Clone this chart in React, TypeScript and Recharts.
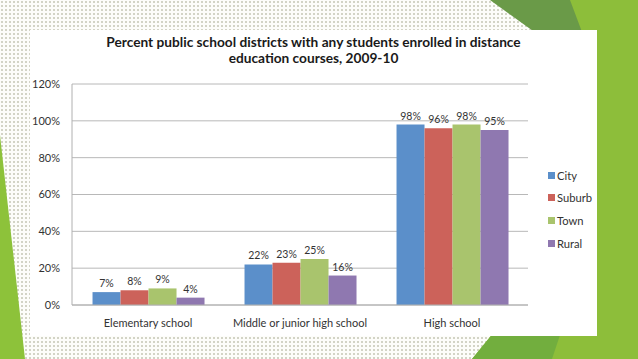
import { Bar, BarChart, CartesianGrid, LabelList, Legend, XAxis, YAxis } from 'recharts';
import { ReactElement } from 'react';

const categories = ['Elementary school', 'Middle or junior high school', 'High school'];
const cityValues = [7, 22, 98];
const suburbValues = [8, 23, 96];
const townValues = [9, 25, 98];
const ruralValues = [4, 16, 95];
const yTicks = [0, 20, 40, 60, 80, 100, 120];

const seriesNames = ['City', 'Suburb', 'Town', 'Rural'];
const seriesColors = ['#5B8FCA', '#CC625A', '#A9C46D', '#8F78B0'];

const chartData = categories.map((name, i) => ({
  name,
  City: cityValues[i],
  Suburb: suburbValues[i],
  Town: townValues[i],
  Rural: ruralValues[i],
}));

const FONT = 'Lato, "Open Sans", sans-serif';

// keep legend in series order (recharts sorts by name otherwise)
const renderLegend = (props: any) => {
  const items = [...props.payload].sort(
    (a: any, b: any) => seriesNames.indexOf(a.value) - seriesNames.indexOf(b.value),
  );
  return (
    <div style={{ fontFamily: FONT, fontSize: 11.2, color: '#333', whiteSpace: 'nowrap' }}>
      {items.map((entry: any) => (
        <div key={entry.value} style={{ height: 22.6, display: 'flex', alignItems: 'center' }}>
          <span style={{ width: 7, height: 7, background: entry.color, marginRight: 2, display: 'inline-block' }} />
          <span>{entry.value}</span>
        </div>
      ))}
    </div>
  );
};

export default function App(): ReactElement {
  return (
    <div style={{
      position: 'absolute', left: 0, top: 0, width: 638, height: 359, overflow: 'hidden',
      backgroundColor: '#fdfdfa',
      backgroundImage: 'radial-gradient(#d3d4c6 0.8px, transparent 1.1px)',
      backgroundSize: '4px 4px',
    }}>
      <svg width={638} height={359} style={{ position: 'absolute', left: 0, top: 0 }}>
        <polygon points="565,0 638,0 638,359 472,359 520,300 597,100" fill="#8DBE3A" />
        <polygon points="490,0 570,0 585,40 540,36" fill="#6A9A48" />
        <polygon points="472,359 552,359 565,320 500,325" fill="#72AE3E" />
        <polygon points="0,135 25,359 0,359" fill="#8DC23A" />
      </svg>
      <div style={{ position: 'absolute', left: 30, top: 30, width: 567, height: 306, background: '#fff' }}>
        <div style={{
          position: 'absolute', left: 0, top: 4, width: 567, textAlign: 'center',
          fontFamily: FONT, fontWeight: 'bold', fontSize: 13.7, lineHeight: '16px', color: '#1a1a1a',
        }}>
          Percent public school districts with any students enrolled in distance<br />
          education courses, 2009-10
        </div>
        <BarChart
          width={567}
          height={306}
          data={chartData}
          margin={{ top: 54, right: 69, bottom: 0, left: 0 }}
          barCategoryGap="13.5%"
          barGap={0}
        >
          <CartesianGrid vertical={false} stroke="#b8b8b8" />
          <XAxis
            dataKey="name"
            height={31}
            tickLine={false}
            tickSize={0}
            tickMargin={14}
            stroke="#b0b0b0"
            tick={{ fill: '#333', fontSize: 11, fontFamily: FONT }}
          />
          <YAxis
            width={42}
            domain={[0, 120]}
            ticks={yTicks}
            tickFormatter={(v: number) => `${v}%`}
            tickLine={false}
            tickSize={0}
            tickMargin={12}
            stroke="#b0b0b0"
            tick={{ fill: '#333', fontSize: 11, fontFamily: FONT }}
          />
          <Legend
            layout="vertical"
            align="center"
            verticalAlign="middle"
            wrapperStyle={{ left: 518, top: 134, width: 48 }}
            content={renderLegend}
          />
          {seriesNames.map((s, i) => (
            <Bar key={s} dataKey={s} fill={seriesColors[i]} isAnimationActive={false}>
              <LabelList
                dataKey={s}
                position="top"
                offset={5}
                formatter={(v: any) => `${v}%`}
                style={{ fill: '#333', fontSize: 10.5, fontFamily: FONT }}
              />
            </Bar>
          ))}
        </BarChart>
      </div>
    </div>
  );
}
